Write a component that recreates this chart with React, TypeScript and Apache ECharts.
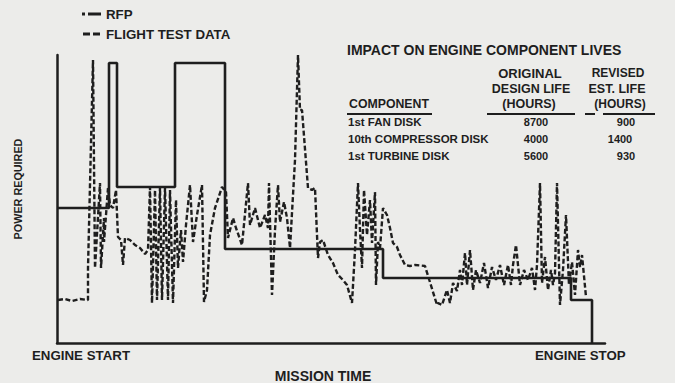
import React, { useEffect, useRef } from "react";
import * as echarts from "echarts";

// Mission time (arbitrary units) vs power required (arbitrary units)
const rfpTime = [0, 52, 52, 60, 60, 118, 118, 168, 168, 326, 326, 514, 514, 535, 535];
const rfpPower = [135, 135, 280, 280, 156, 156, 280, 280, 94, 94, 65, 65, 43, 43, 0];

const flightTime = [
  1, 8, 15, 23, 31, 31, 36, 38, 43, 44, 47, 47, 51, 53, 56, 59, 61, 64, 66, 68, 73, 78, 83, 88, 91,
  93, 95, 98, 100, 103, 105, 108, 111, 113, 116, 119, 121, 124, 126, 129, 133, 136, 140, 145, 147,
  150, 153, 158, 165, 169, 171, 176, 179, 185, 191, 193, 198, 203, 208, 211, 212, 215, 218, 221,
  223, 227, 230, 233, 238, 241, 243, 245, 251, 255, 258, 261, 263, 266, 271, 276, 281, 286, 290,
  295, 298, 301, 303, 305, 307, 310, 313, 315, 318, 319, 321, 323, 326, 330, 333, 336, 340, 343,
  348, 353, 358, 368, 380, 381, 385, 390, 393, 396, 400, 403, 405, 408, 410, 413, 416, 419, 423,
  427, 431, 435, 439, 443, 447, 451, 454, 456, 459, 463, 467, 471, 475, 478, 480, 483, 485, 488,
  491, 494, 496, 498, 500, 503, 506, 509, 512, 515, 518, 521, 523, 525, 529
];
const flightPower = [
  43, 44, 42, 44, 43, 75, 283, 75, 160, 75, 125, 101, 155, 138, 135, 153, 106, 103, 78, 105, 103,
  98, 95, 89, 93, 156, 40, 153, 43, 156, 43, 155, 43, 153, 40, 143, 75, 113, 81, 118, 158, 101,
  128, 158, 41, 53, 108, 135, 156, 151, 105, 125, 115, 98, 160, 118, 135, 115, 128, 115, 160, 48,
  113, 158, 121, 141, 125, 95, 183, 288, 233, 233, 155, 153, 155, 85, 101, 103, 88, 80, 68, 63,
  58, 40, 93, 160, 113, 75, 153, 108, 143, 100, 151, 58, 101, 95, 135, 128, 115, 100, 96, 88, 78,
  77, 78, 77, 38, 40, 38, 53, 40, 60, 52, 73, 58, 90, 58, 93, 53, 73, 60, 80, 55, 76, 63, 78, 58,
  78, 58, 78, 98, 58, 73, 63, 75, 53, 78, 160, 60, 86, 53, 73, 58, 70, 160, 38, 73, 128, 58, 81,
  48, 93, 76, 88, 46, 45
];

const rfpData = rfpTime.map((t, i) => [t, rfpPower[i]]);
const flightData = flightTime.map((t, i) => [t, flightPower[i]]);

const ink = "#1e1e1e";
const font = "Liberation Sans";

const componentNames = ["1st FAN DISK", "10th COMPRESSOR DISK", "1st TURBINE DISK"];
const originalLife = ["8700", "4000", "5600"];
const revisedLife = ["900", "1400", "930"];

export default function App() {
  const ref = useRef<HTMLDivElement>(null);
  useEffect(() => {
    if (!ref.current) return;
    const chart = echarts.init(ref.current, null, { renderer: "svg" });
    const txt = (text: string, x: number, y: number, size: number, align = "left") => ({
      type: "text",
      x,
      y,
      style: {
        text,
        fill: ink,
        font: `bold ${size}px "${font}"`,
        textAlign: align,
        textVerticalAlign: "middle",
      },
    });
    const line = (x1: number, y1: number, x2: number, y2: number) => ({
      type: "line",
      shape: { x1, y1, x2, y2 },
      style: { stroke: ink, lineWidth: 2 },
    });
    const graphics: any[] = [
      txt("IMPACT ON ENGINE COMPONENT LIVES", 347, 50, 14),
      txt("ORIGINAL", 530, 73, 13, "center"),
      txt("DESIGN LIFE", 531, 89, 12.5, "center"),
      txt("(HOURS)", 529, 104, 12.5, "center"),
      txt("REVISED", 618, 73, 12, "center"),
      txt("EST. LIFE", 617, 89, 12.5, "center"),
      txt("(HOURS)", 620, 104, 12, "center"),
      txt("COMPONENT", 349, 104, 12.3),
      line(347, 114, 432, 114),
      line(487, 114, 575, 114),
      line(585, 114, 595, 114),
      line(603, 114, 655, 114),
      txt("ENGINE START", 32, 355, 13.3),
      txt("ENGINE STOP", 535, 355, 13.3),
      txt("MISSION TIME", 323, 376, 14, "center"),
      {
        type: "text",
        x: 18,
        y: 189,
        rotation: Math.PI / 2,
        style: {
          text: "POWER REQUIRED",
          fill: ink,
          font: `bold 10.8px "${font}"`,
          textAlign: "center",
          textVerticalAlign: "middle",
        },
      },
    ];
    componentNames.forEach((n, i) => {
      const y = [122, 139, 156][i];
      graphics.push(txt(n, 348, y, 11.5));
      graphics.push(txt(originalLife[i], 536, y, 11, "center"));
      graphics.push(txt(revisedLife[i], [626, 620, 626][i], y, 11, "center"));
    });

    chart.setOption({
      animation: false,
      backgroundColor: "#ececea",
      grid: { left: 57, right: 70, top: 55, bottom: 40 },
      legend: {
        orient: "vertical",
        left: 77,
        top: 2,
        itemWidth: 19,
        itemHeight: 3,
        itemGap: 6,
        textStyle: {
          color: ink,
          fontFamily: font,
          fontWeight: "bold",
          fontSize: 13.3,
          lineHeight: 14,
        },
        data: [
          { name: "RFP", icon: "path://M0,0h3v3h-3z M6,0h13v3h-13z", itemStyle: { color: ink } },
          {
            name: "FLIGHT TEST DATA",
            icon: "path://M0,0h7v3h-7z M10,0h7v3h-7z",
            itemStyle: { color: ink },
          },
        ],
      },
      xAxis: {
        type: "value",
        min: 0,
        max: 548,
        axisLine: { show: true, lineStyle: { color: ink, width: 2.5 } },
        axisTick: { show: false },
        axisLabel: { show: false },
        splitLine: { show: false },
      },
      yAxis: {
        type: "value",
        min: 0,
        max: 288,
        axisLine: { show: true, lineStyle: { color: ink, width: 2.5 } },
        axisTick: { show: false },
        axisLabel: { show: false },
        splitLine: { show: false },
      },
      series: [
        {
          name: "FLIGHT TEST DATA",
          type: "line",
          data: flightData,
          showSymbol: false,
          symbol: "none",
          lineStyle: { color: ink, width: 2.4, type: [5, 2.5] },
          itemStyle: { color: ink },
          z: 2,
        },
        {
          name: "RFP",
          type: "line",
          data: rfpData,
          showSymbol: false,
          symbol: "none",
          lineStyle: { color: ink, width: 2.6 },
          itemStyle: { color: ink },
          z: 3,
        },
      ],
      graphic: graphics,
    });
    return () => chart.dispose();
  }, []);
  return (
    <div
      ref={ref}
      style={{ position: "fixed", left: 0, top: 0, width: 675, height: 383 }}
    />
  );
}
